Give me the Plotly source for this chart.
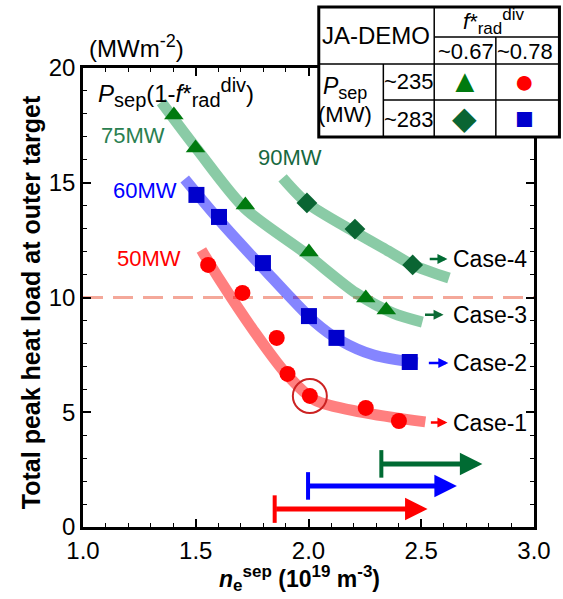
import plotly.graph_objects as go

# ---------------- data ----------------
# Case-1 : red circles (Psep~235, f*~0.78 -> 50MW)
case1_x = [1.555, 1.707, 1.859, 1.907, 2.006, 2.254, 2.401]
case1_y = [11.42, 10.20, 8.24, 6.67, 5.71, 5.19, 4.62]
case1_fit_x = [1.525, 1.607, 1.755, 1.898, 2.028, 2.232, 2.518]
case1_fit_y = [12.07, 10.76, 8.58, 6.71, 5.53, 5.01, 4.58]

# Case-2 : blue squares (Psep~283, f*~0.78 -> 60MW)
case2_x = [1.503, 1.603, 1.798, 2.002, 2.124, 2.449]
case2_y = [14.47, 13.51, 11.50, 9.19, 8.24, 7.19]
case2_fit_x = [1.451, 1.603, 1.798, 2.028, 2.137, 2.289, 2.484]
case2_fit_y = [15.16, 13.38, 11.29, 8.93, 8.15, 7.49, 7.15]

# Case-3 : green triangles (Psep~235, f*~0.67 -> 75MW)
case3_x = [1.403, 1.499, 1.720, 2.002, 2.254, 2.345]
case3_y = [17.95, 16.51, 14.03, 11.98, 9.98, 9.46]
case3_fit_x = [1.347, 1.508, 1.716, 1.985, 2.210, 2.375, 2.505]
case3_fit_y = [18.52, 16.43, 13.90, 11.94, 10.20, 9.32, 8.93]

# Case-4 : dark green diamonds (Psep~283, f*~0.67 -> 90MW)
case4_x = [1.993, 2.206, 2.462]
case4_y = [14.12, 12.98, 11.42]
case4_fit_x = [1.885, 1.993, 2.206, 2.362, 2.462, 2.623]
case4_fit_y = [15.21, 14.12, 12.85, 11.98, 11.42, 10.85]

# highlighted point
circled_x = [2.006]
circled_y = [5.71]

# heat-load limit
limit_y = 10.0

# case labels: (arrow start x, arrow tip x, y)
case_names = ["Case-1", "Case-2", "Case-3", "Case-4"]
case_arrow_x0 = [2.536, 2.527, 2.510, 2.531]
case_arrow_x1 = [2.601, 2.605, 2.584, 2.601]
case_arrow_y = [4.55, 7.15, 9.25, 11.68]
case_colors = ["#ff0000", "#0000ff", "#0b6b35", "#006b33"]

# power labels
power_labels = ["50MW", "60MW", "75MW", "90MW"]
power_x = [1.291, 1.273, 1.221, 1.920]
power_y = [11.72, 14.68, 17.08, 16.08]
power_colors = ["#ff0000", "#0000ff", "#2a8050", "#17693f"]

# operation windows (start, end, level)
window_x0 = [1.850, 1.998, 2.323]
window_x1 = [2.488, 2.618, 2.731]
window_y = [0.78, 1.79, 2.75]
window_colors = ["#ff0000", "#0000ff", "#006b33"]
window_bar_half = 0.6

x_ticks = [1.0, 1.5, 2.0, 2.5, 3.0]
x_ticklabels = ["1.0", "1.5", "2.0", "2.5", "3.0"]
y_ticks = [0, 5, 10, 15, 20]
y_ticklabels = ["0", "5", "10", "15", "20"]

FONT = "Liberation Sans, Arial, Helvetica, sans-serif"

def small(t, size):
    return '<span style="font-size:%dpx">%s</span>' % (size, t)

# ---------------- figure ----------------
fig = go.Figure()

# limit line
fig.add_trace(go.Scatter(x=[1.0, 3.0], y=[limit_y, limit_y], mode="lines",
                         line=dict(color="#f4a89a", width=3, dash="20px,10px"),
                         hoverinfo="skip"))

# thick trend curves
for fx, fy, col in [(case1_fit_x, case1_fit_y, "rgba(255,0,0,0.5)"),
                    (case2_fit_x, case2_fit_y, "rgba(0,0,255,0.48)"),
                    (case3_fit_x, case3_fit_y, "rgba(30,155,85,0.52)"),
                    (case4_fit_x, case4_fit_y, "rgba(30,155,85,0.52)")]:
    fig.add_trace(go.Scatter(x=fx, y=fy, mode="lines",
                             line=dict(color=col, width=11, shape="spline", smoothing=0.8),
                             hoverinfo="skip"))

# markers
fig.add_trace(go.Scatter(x=case1_x, y=case1_y, mode="markers",
                         marker=dict(symbol="circle", size=16, color="#ff0000")))
fig.add_trace(go.Scatter(x=case2_x, y=case2_y, mode="markers",
                         marker=dict(symbol="square", size=16, color="#0000cc")))
fig.add_trace(go.Scatter(x=case3_x, y=case3_y, mode="markers",
                         marker=dict(symbol="triangle-up", size=17, color="#007a0f")))
fig.add_trace(go.Scatter(x=case4_x, y=case4_y, mode="markers",
                         marker=dict(symbol="diamond", size=16, color="#0a6533")))
fig.add_trace(go.Scatter(x=circled_x, y=circled_y, mode="markers",
                         marker=dict(symbol="circle-open", size=34, color="#cc2222",
                                     line=dict(width=2, color="#cc2222"))))

# operation-window start bars
for x0, y0, col in zip(window_x0, window_y, window_colors):
    fig.add_trace(go.Scatter(x=[x0, x0], y=[y0 - window_bar_half, y0 + window_bar_half],
                             mode="lines", line=dict(color=col, width=4), hoverinfo="skip"))

annotations = []
# operation-window arrows
for x0, x1, y0, col in zip(window_x0, window_x1, window_y, window_colors):
    annotations.append(dict(x=x1 + 0.04, y=y0, ax=x0, ay=y0, xref="x", yref="y",
                            axref="x", ayref="y", text="", showarrow=True,
                            arrowhead=2, arrowwidth=5, arrowsize=0.9,
                            arrowcolor=col, standoff=0, startstandoff=0))
# case arrows and labels
for name, x0, x1, y0, col in zip(case_names, case_arrow_x0, case_arrow_x1, case_arrow_y, case_colors):
    annotations.append(dict(x=x1 + 0.015, y=y0, ax=x0, ay=y0, xref="x", yref="y",
                            axref="x", ayref="y", text="", showarrow=True,
                            arrowhead=2, arrowwidth=2.5, arrowsize=0.8,
                            arrowcolor=col, standoff=0, startstandoff=0))
    annotations.append(dict(x=2.632, y=y0, xref="x", yref="y", text=name,
                            showarrow=False, xanchor="left", yanchor="middle",
                            font=dict(family=FONT, size=23, color="black")))
# power labels
for t, x0, y0, col in zip(power_labels, power_x, power_y, power_colors):
    annotations.append(dict(x=x0, y=y0, xref="x", yref="y", text=t, showarrow=False,
                            xanchor="center", yanchor="middle",
                            font=dict(family=FONT, size=22, color=col)))

# pixel -> paper helpers (layout geometry)
L, R, T, B = 83, 544, 68, 527
def px(xp):
    return (xp - L) / (R - L)
def py(yp):
    return (B - yp) / (B - T)

annotations.append(dict(x=px(87), y=py(47), xref="paper", yref="paper",
                        text="(MWm<sup>" + small("-2", 18) + "</sup>)", showarrow=False, xanchor="left",
                        yanchor="middle", font=dict(family=FONT, size=24, color="black")))
annotations.append(dict(x=px(96), y=py(92), xref="paper", yref="paper",
                        text="<i>P</i><sub>" + small("sep", 20) + "</sub>(1-<i>f</i>*<sub>"
                             + small("rad", 20) + "</sub><sup>" + small("div", 20) + "</sup>)",
                        showarrow=False, xanchor="left", yanchor="middle",
                        font=dict(family=FONT, size=24, color="black")))
# axis titles
annotations.append(dict(x=px(304), y=py(578), xref="paper", yref="paper",
                        text="<b><i>n</i><sub>" + small("e", 17) + "</sub><sup>" + small("sep", 17)
                             + "</sup> (10<sup>" + small("19", 17) + "</sup> m<sup>"
                             + small("-3", 17) + "</sup>)</b>",
                        showarrow=False, xanchor="center", yanchor="middle",
                        font=dict(family=FONT, size=23, color="black")))
annotations.append(dict(x=px(30), y=py(302), xref="paper", yref="paper",
                        text="<b>Total peak heat load at outer target</b>", textangle=-90,
                        showarrow=False, xanchor="center", yanchor="middle",
                        font=dict(family=FONT, size=25, color="black")))

# ---------------- table (legend) ----------------
shapes = []
tx0, tx1, tx2, tx3, tx4 = 324, 390, 442, 505, 570
ty0, ty1, ty2, ty3, ty4 = 7, 37, 64, 100, 137
shapes.append(dict(type="rect", xref="paper", yref="paper", x0=px(tx0), x1=px(tx4),
                   y0=py(ty4), y1=py(ty0), fillcolor="white",
                   line=dict(color="black", width=3), layer="above"))
def seg(xa, ya, xb, yb, w=1.5):
    shapes.append(dict(type="line", xref="paper", yref="paper", x0=px(xa), y0=py(ya),
                       x1=px(xb), y1=py(yb), line=dict(color="black", width=w), layer="above"))
seg(tx2, ty0, tx2, ty4)
seg(tx3, ty1, tx3, ty4)
seg(tx1, ty2, tx1, ty4)
seg(tx2, ty1, tx4, ty1)
seg(tx0, ty2, tx4, ty2)
seg(tx1, ty3, tx4, ty3)

def tab_text(x, y, t, size=21, color="black"):
    annotations.append(dict(x=px(x), y=py(y), xref="paper", yref="paper", text=t,
                            showarrow=False, xanchor="center", yanchor="middle",
                            font=dict(family=FONT, size=size, color=color)))
tab_text(382, 36, "JA-DEMO", 24)
tab_text(503, 21, "<i>f</i>*<sub>" + small("rad", 17) + "</sub><sup>" + small("div", 17) + "</sup>", 22)
tab_text(474, 51, "~0.67", 22)
tab_text(535, 51, "~0.78", 22)
tab_text(351, 88, "<i>P</i><sub>" + small("sep", 18) + "</sub>", 23)
tab_text(351, 114, "(MW)", 22)
tab_text(416, 82, "~235", 22)
tab_text(416, 119, "~283", 22)
tab_text(473, 81, "▲", 32, "#007a0f")
tab_text(534, 81, "●", 34, "#ff0000")
tab_text(473, 118, "◆", 32, "#0a6533")
tab_text(534, 118, "■", 31, "#0000cc")

axis_common = dict(showline=True, linecolor="black", linewidth=2.5, mirror="ticks",
                   ticks="inside", ticklen=8, tickwidth=1.5, tickcolor="black",
                   showgrid=False, zeroline=False,
                   tickfont=dict(family=FONT, size=24, color="black"))

fig.update_layout(
    width=563, height=599,
    margin=dict(l=L, r=563 - R, t=T, b=599 - B),
    paper_bgcolor="white", plot_bgcolor="white",
    showlegend=False,
    xaxis=dict(range=[1.0, 3.0], tickvals=x_ticks, ticktext=x_ticklabels,
               minor=dict(dtick=0.1, ticks="inside", ticklen=4, tickcolor="black", tickwidth=1.2),
               **axis_common),
    yaxis=dict(range=[0, 20], tickvals=y_ticks, ticktext=y_ticklabels,
               minor=dict(dtick=1, ticks="inside", ticklen=4, tickcolor="black", tickwidth=1.2),
               **axis_common),
    annotations=annotations,
    shapes=shapes,
)

fig.write_html("out.html")
